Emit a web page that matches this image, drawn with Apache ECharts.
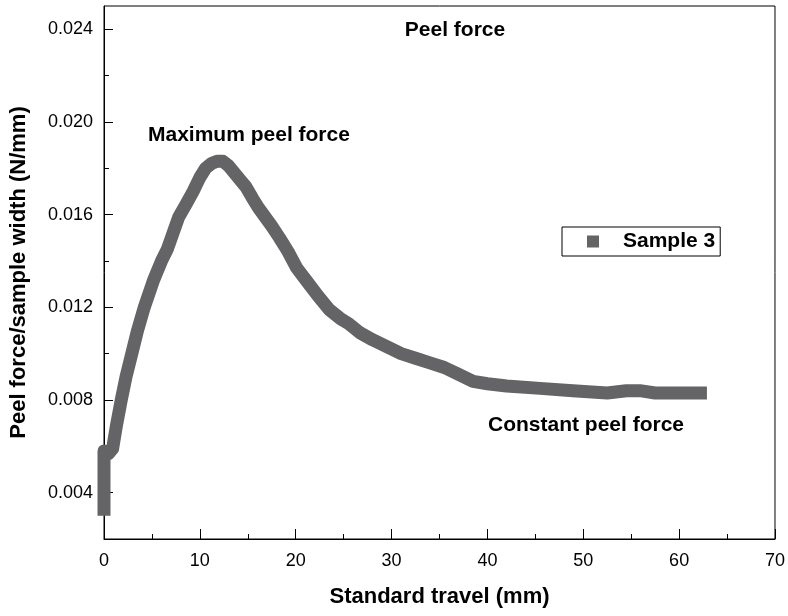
<!DOCTYPE html>
<html>
<head>
<meta charset="utf-8">
<script src="https://cdn.jsdelivr.net/npm/echarts@6/dist/echarts.min.js"></script>
<style>html,body{margin:0;padding:0;background:#fff;}#c{width:788px;height:616px;}</style>
</head>
<body>
<div id="c"></div>
<script>
// Data
const travel = [0, 0, 0.5, 0.9, 1.3, 1.8, 2.3, 2.9, 3.5, 4.2, 5.2, 6.0, 6.6, 7.2, 7.8, 8.5, 9.3, 10.0, 10.6, 11.2, 11.8, 12.4, 13.0, 13.6, 14.2, 14.8, 15.5, 16.1, 16.8, 17.5, 18.3, 19.2, 20.1, 21.2, 22.3, 23.5, 24.7, 25.5, 26.7, 28.0, 29.5, 31.0, 32.5, 34.0, 35.5, 37.0, 38.5, 40.0, 42.0, 45.5, 48.9, 52.5, 54.5, 55.9, 57.5, 59.3, 61.0, 62.9];
const peelForce = [0.0030, 0.0058, 0.0057, 0.0059, 0.0069, 0.0080, 0.0090, 0.0100, 0.0110, 0.0120, 0.0132, 0.0140, 0.0145, 0.0152, 0.0159, 0.0164, 0.0170, 0.0176, 0.0180, 0.0182, 0.0183, 0.0183, 0.0181, 0.0178, 0.0175, 0.0172, 0.0167, 0.0163, 0.0159, 0.0155, 0.0150, 0.0144, 0.0137, 0.0131, 0.0125, 0.0119, 0.0115, 0.0113, 0.0109, 0.0106, 0.0103, 0.0100, 0.0098, 0.0096, 0.0094, 0.0091, 0.0088, 0.0087, 0.0086, 0.0085, 0.0084, 0.0083, 0.0084, 0.0084, 0.0083, 0.0083, 0.0083, 0.0083];
const seriesName = 'Sample 3';
const yMajorTicks = [0.004, 0.008, 0.012, 0.016, 0.020, 0.024];
const yMinorTicks = [0.006, 0.010, 0.014, 0.018, 0.022];
const chartTitle = 'Peel force';
const xTitle = 'Standard travel (mm)';
const yTitle = 'Peel force/sample width (N/mm)';
const noteMax = 'Maximum peel force';
const noteConst = 'Constant peel force';

const FONT = 'Arial, "Liberation Sans", sans-serif';
const chart = echarts.init(document.getElementById('c'), null, {renderer: 'canvas'});
const data = travel.map((x, i) => [x, peelForce[i]]);

chart.setOption({
  animation: false,
  backgroundColor: '#fff',
  textStyle: {fontFamily: FONT},
  grid: {left: 104, right: 13, top: 6, bottom: 77, show: true, borderColor: '#000', borderWidth: 1, backgroundColor: 'transparent'},
  legend: {
    left: 562, top: 227,
    data: [{name: seriesName, icon: 'rect'}],
    itemWidth: 12, itemHeight: 12,
    padding: [4, 5, 4, 25],
    borderColor: '#000', borderWidth: 1,
    formatter: '{a|{name}}',
    textStyle: {fontFamily: FONT, fontSize: 21, fontWeight: 'bold', color: '#000',
      rich: {a: {fontFamily: FONT, fontSize: 21, fontWeight: 'bold', color: '#000', padding: [0, 0, 0, 19]}}}
  },
  xAxis: {
    type: 'value', min: 0, max: 70, interval: 10,
    name: xTitle, nameLocation: 'middle', nameGap: 47,
    nameTextStyle: {fontFamily: FONT, fontSize: 22, fontWeight: 'bold', color: '#000'},
    axisLine: {show: true, onZero: false, lineStyle: {color: '#000', width: 1}},
    axisTick: {show: true, inside: true, length: 10, lineStyle: {color: '#000'}},
    minorTick: {show: true, splitNumber: 2, length: 5, lineStyle: {color: '#000'}},
    axisLabel: {fontFamily: FONT, fontSize: 18, color: '#000', margin: 13},
    splitLine: {show: false}
  },
  yAxis: [{
    type: 'value', min: 0.002, max: 0.025, interval: 0.002, position: 'left',
    name: yTitle, nameLocation: 'middle', nameGap: 74,
    nameTextStyle: {fontFamily: FONT, fontSize: 22, fontWeight: 'bold', color: '#000'},
    axisLine: {show: true, onZero: false, lineStyle: {color: '#000', width: 1}},
    axisTick: {show: true, inside: true, length: 9, customValues: yMajorTicks, lineStyle: {color: '#000'}},
    axisLabel: {customValues: yMajorTicks, formatter: v => v.toFixed(3), fontFamily: FONT, fontSize: 18, color: '#000', margin: 11},
    splitLine: {show: false}
  }, {
    type: 'value', min: 0.002, max: 0.025, interval: 0.002, position: 'left', offset: 0,
    axisLine: {show: false},
    axisTick: {show: true, inside: true, length: 5, customValues: yMinorTicks, lineStyle: {color: '#000'}},
    axisLabel: {show: false},
    splitLine: {show: false}
  }],
  series: [{
    name: seriesName, type: 'line', data: data, yAxisIndex: 0,
    showSymbol: false, symbol: 'none', clip: true,
    color: '#646466',
    lineStyle: {color: '#646466', width: 13, join: 'round', cap: 'butt'}
  }],
  graphic: [
    {type: 'text', style: {text: chartTitle, x: 455, y: 30, textAlign: 'center', textVerticalAlign: 'middle', font: 'bold 21px ' + FONT, fill: '#000'}},
    {type: 'text', style: {text: noteMax, x: 148, y: 135, textVerticalAlign: 'middle', font: 'bold 21px ' + FONT, fill: '#000'}},
    {type: 'text', style: {text: noteConst, x: 488, y: 425, textVerticalAlign: 'middle', font: 'bold 21px ' + FONT, fill: '#000'}}
  ]
});
</script>
</body>
</html>
